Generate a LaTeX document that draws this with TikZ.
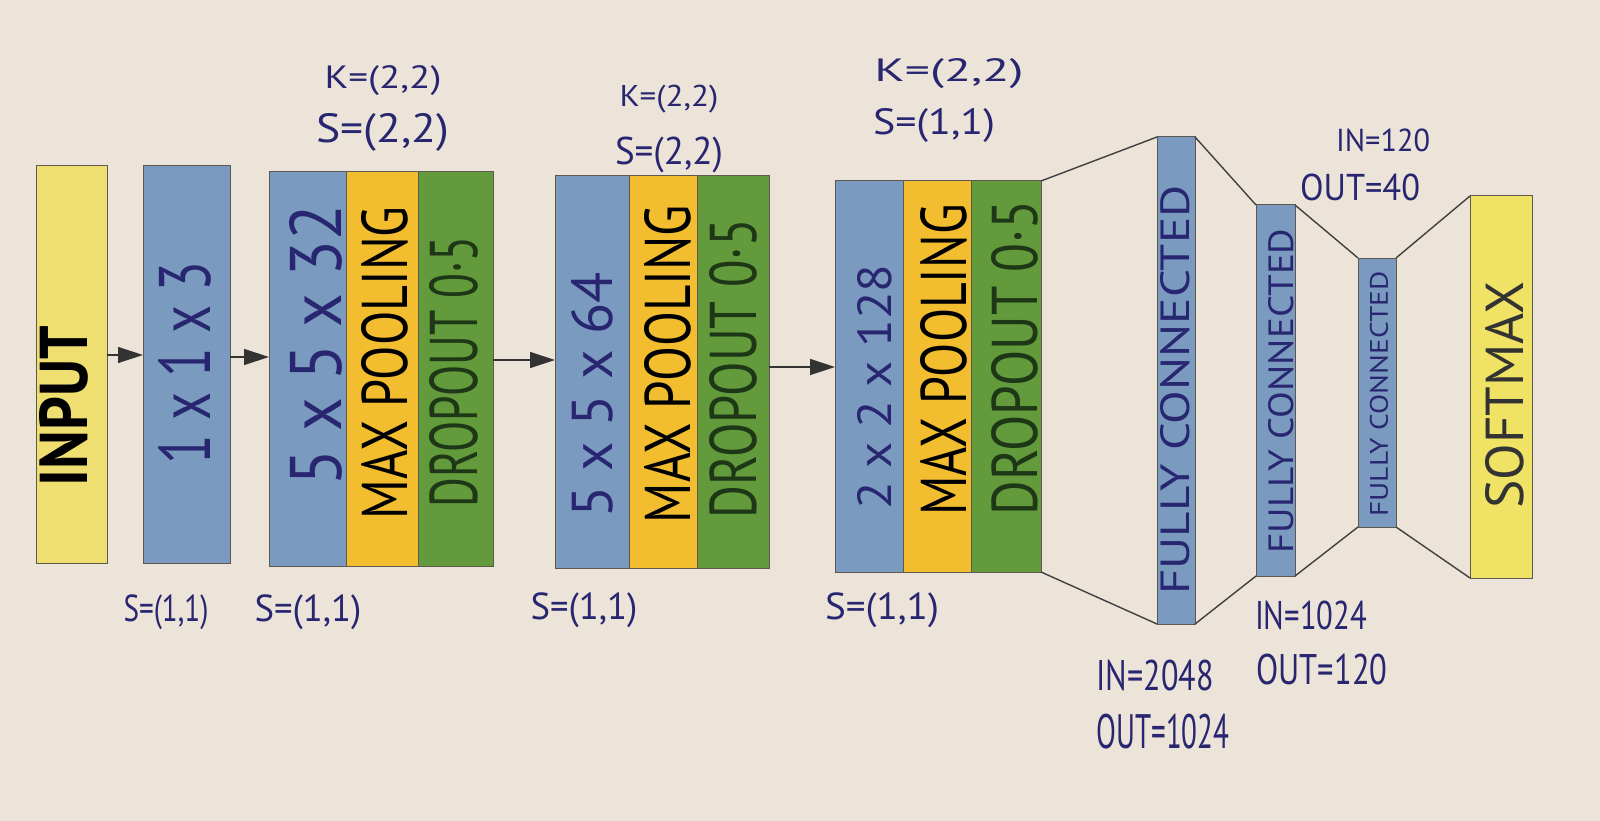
\documentclass[tikz,border=0pt]{standalone}
\usepackage{fontspec}
\newfontfamily\hand{PT Sans}
\usetikzlibrary{arrows.meta}
\definecolor{paper}{RGB}{236,227,217}
\definecolor{inpY}{RGB}{238,223,112}
\definecolor{smY}{RGB}{240,226,100}
\definecolor{blueC}{RGB}{122,154,192}
\definecolor{orangeC}{RGB}{243,189,48}
\definecolor{greenC}{RGB}{98,154,60}
\definecolor{ink}{RGB}{40,38,112}
\definecolor{greenink}{RGB}{30,55,22}
\definecolor{edge}{RGB}{95,88,80}
\newcommand\mkbox[6]{\node[box, fill=#2, minimum width={(#5-#3)*1pt}, minimum height={(#6-#4)*1pt}] (#1) at ({(#3+#5)/2},{(#4+#6)/2}) {};}
\newcommand\vlab[4]{\resizebox{#1pt}{#2pt}{\hand\color{#3}#4}}
\newcommand\hlab[3]{\resizebox*{#1pt}{#2pt}{\hand #3}}
\begin{document}
\begin{tikzpicture}[x=1pt,y=-1pt,
  box/.style={draw=edge, line width=1pt, inner sep=0pt, outer sep=0pt, rectangle},
  arr/.style={draw=black!80, line width=1.3pt, -{Triangle[length=25pt,width=16pt]}},
  link/.style={draw=black!75, line width=1.4pt},
  vtext/.style={rotate=90, inner sep=0pt},
  lbl/.style={inner sep=0pt, text=ink}]
\fill[paper] (0,0) rectangle (1600,821);
\useasboundingbox (0,0) rectangle (1600,821);
% boxes
\mkbox{inp}{inpY}{36}{166}{107}{563}
\mkbox{b1}{blueC}{143}{166}{230}{563}
\mkbox{c1b}{blueC}{269}{172}{346}{566}
\mkbox{c1y}{orangeC}{346}{172}{418}{566}
\mkbox{c1g}{greenC}{418}{172}{493}{566}
\mkbox{c2b}{blueC}{555}{176}{629}{568}
\mkbox{c2y}{orangeC}{629}{176}{697}{568}
\mkbox{c2g}{greenC}{697}{176}{769}{568}
\mkbox{c3b}{blueC}{835}{181}{903}{572}
\mkbox{c3y}{orangeC}{903}{181}{971}{572}
\mkbox{c3g}{greenC}{971}{181}{1041}{572}
\mkbox{fc1}{blueC}{1157}{137}{1195}{624}
\mkbox{fc2}{blueC}{1256}{205}{1295}{576}
\mkbox{fc3}{blueC}{1358}{258}{1396}{527}
\mkbox{sm}{smY}{1470}{196}{1532}{578}
% texts in boxes
\node[vtext] (tinp) at (64,406) {\resizebox{160pt}{48pt}{\hand\bfseries INPUT}};
\node[vtext] (tb1) at (185,363) {\vlab{203}{52}{ink}{1 x 1 x 3}};
\node[vtext] (tc1b) at (316,345) {\vlab{280}{52}{ink}{5 x 5 x 32}};
\node[vtext] (tc1y) at (385,363) {\vlab{313}{46}{black}{MAX POOLING}};
\node[vtext] (tc1g) at (454,372) {\vlab{271}{48}{greenink}{DROPOUT 0·5}};
\node[vtext] (tc2b) at (592,395) {\vlab{245}{41}{ink}{5 x 5 x 64}};
\node[vtext] (tc2y) at (668,364) {\vlab{318}{46}{black}{MAX POOLING}};
\node[vtext] (tc2g) at (733,369) {\vlab{299}{47}{greenink}{DROPOUT 0·5}};
\node[vtext] (tc3b) at (875,387) {\vlab{245}{34}{ink}{2 x 2 x 128}};
\node[vtext] (tc3y) at (944,360) {\vlab{311}{46}{black}{MAX POOLING}};
\node[vtext] (tc3g) at (1015,358) {\vlab{315}{46}{greenink}{DROPOUT 0·5}};
\node[vtext] (tfc1) at (1175,390) {\vlab{409}{29}{ink}{FULLY CONNECTED}};
\node[vtext] (tfc2) at (1281,391) {\vlab{325}{25}{ink}{FULLY CONNECTED}};
\node[vtext] (tfc3) at (1379,394) {\vlab{245}{18}{ink}{FULLY CONNECTED}};
\node[vtext] (tsm) at (1505,395) {\vlab{227}{38}{black!80}{SOFTMAX}};
% arrows
\draw[arr] (inp.east |- 0,355) -- (b1.west |- 0,355);
\draw[arr] (b1.east |- 0,357) -- (c1b.west |- 0,357);
\draw[arr] (c1g.east |- 0,360) -- (c2b.west |- 0,360);
\draw[arr] (c2g.east |- 0,367) -- (c3b.west |- 0,367);
% fully connected funnels
\draw[link] (c3g.north east) -- (fc1.north west);
\draw[link] (c3g.south east) -- (fc1.south west);
\draw[link] (fc1.north east) -- (fc2.north west);
\draw[link] (fc1.south east) -- (fc2.south west);
\draw[link] (fc2.north east) -- (fc3.north west);
\draw[link] (fc2.south east) -- (fc3.south west);
\draw[link] (fc3.north east) -- (sm.north west);
\draw[link] (fc3.south east) -- (sm.south west);
% labels
\node[lbl] (k1) at (383,81) {\hlab{117}{30}{K=(2,2)}};
\node[lbl] (s1) at (383,132) {\hlab{133}{38}{S=(2,2)}};
\node[lbl] (k2) at (669,99) {\hlab{99}{28}{K=(2,2)}};
\node[lbl] (s2) at (669,155) {\hlab{108}{36}{S=(2,2)}};
\node[lbl] (k3) at (949,74) {\hlab{149}{30}{K=(2,2)}};
\node[lbl] (s3) at (934,126) {\hlab{122}{34}{S=(1,1)}};
\node[lbl] (in3) at (1383,140) {\hlab{94}{23}{IN=120}};
\node[lbl] (out3) at (1360,187) {\hlab{120}{27}{OUT=40}};
\node[lbl] (sb1) at (166,612) {\hlab{85}{35}{S=(1,1)}};
\node[lbl] (sb2) at (308,612) {\hlab{107}{35}{S=(1,1)}};
\node[lbl] (sb3) at (584,610) {\hlab{107}{35}{S=(1,1)}};
\node[lbl] (sb4) at (882,610) {\hlab{114}{35}{S=(1,1)}};
\node[lbl] (in2) at (1311,615) {\hlab{112}{29}{IN=1024}};
\node[lbl] (out2) at (1322,670) {\hlab{131}{31}{OUT=120}};
\node[lbl] (in1) at (1155,676) {\hlab{117}{31}{IN=2048}};
\node[lbl] (out1) at (1163,732) {\hlab{133}{35}{OUT=1024}};
\end{tikzpicture}
\end{document}
